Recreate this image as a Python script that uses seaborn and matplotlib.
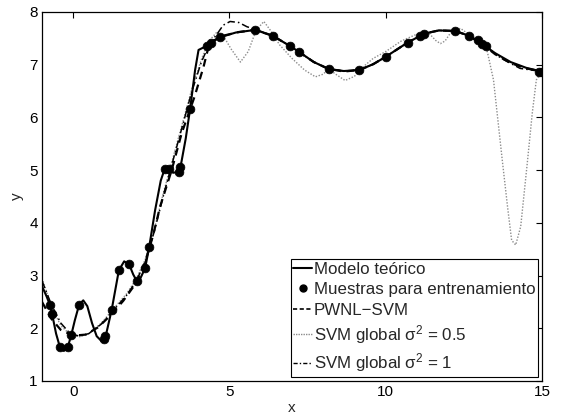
import matplotlib
matplotlib.use('Agg')
import matplotlib.pyplot as plt
import seaborn as sns
from matplotlib.lines import Line2D

# curves
model_x = [-1.0, -0.85, -0.75, -0.68, -0.55, -0.43, -0.30, -0.18, -0.06, 0.05,
           0.19, 0.32, 0.45, 0.60, 0.75, 0.90, 1.03, 1.23, 1.46, 1.63,
           1.79, 1.92, 2.03, 2.15, 2.30, 2.43, 2.62, 2.80, 2.93, 3.05,
           3.20, 3.37, 3.43, 3.60, 3.74, 3.90, 4.01, 4.28, 4.40, 4.70,
           5.20, 5.82, 6.38, 6.95, 7.21, 7.70, 8.17, 8.66, 9.16, 9.60,
           10.0, 10.70, 11.24, 11.70, 12.22, 12.66, 13.07, 13.50, 14.00, 14.50, 15.0]
model_y = [2.80, 2.60, 2.45, 2.28, 1.90, 1.65, 1.57, 1.63, 1.88, 2.15,
           2.45, 2.53, 2.42, 2.10, 1.85, 1.76, 1.83, 2.35, 3.10, 3.27,
           3.21, 3.02, 2.90, 2.95, 3.14, 3.54, 4.24, 4.80, 5.03, 5.02,
           4.95, 4.97, 5.05, 5.60, 6.16, 6.90, 7.28, 7.36, 7.42, 7.52,
           7.61, 7.66, 7.55, 7.35, 7.25, 7.05, 6.92, 6.88, 6.90, 7.01,
           7.15, 7.42, 7.59, 7.65, 7.64, 7.55, 7.40, 7.22, 7.05, 6.94, 6.87]

sample_x = [-0.75, -0.68, -0.43, -0.18, -0.06, 0.19, 0.99, 1.03, 1.23, 1.46,
            1.79, 2.03, 2.30, 2.43, 2.93, 3.05, 3.37, 3.43, 3.74, 4.28,
            4.40, 4.70, 5.82, 6.38, 6.95, 7.21, 8.17, 9.16, 10.0, 10.70,
            11.11, 11.24, 12.22, 12.66, 12.95, 13.07, 13.22, 14.90, 15.0]
sample_y = [2.45, 2.28, 1.65, 1.65, 1.88, 2.45, 1.79, 1.85, 2.35, 3.10,
            3.21, 2.90, 3.14, 3.54, 5.03, 5.03, 4.97, 5.05, 6.16, 7.36,
            7.42, 7.52, 7.66, 7.55, 7.35, 7.25, 6.92, 6.90, 7.15, 7.42,
            7.55, 7.59, 7.64, 7.55, 7.46, 7.40, 7.36, 6.87, 6.87]

pwnl_x = [-1.0, -0.7, -0.4, 0.0, 0.4, 0.8, 1.2, 1.6, 2.0, 2.3,
          2.55, 2.78, 3.0, 3.15, 3.47, 3.88, 4.17, 4.33, 4.5, 4.8,
          5.3, 5.82, 6.38, 6.95, 7.70, 8.17, 8.66, 9.16, 9.60, 10.0,
          10.70, 11.24, 11.70, 12.22, 12.66, 13.07, 13.50, 14.00, 14.50, 15.0]
pwnl_y = [2.50, 2.18, 1.97, 1.86, 1.88, 2.02, 2.25, 2.52, 2.85, 3.25,
          3.75, 4.31, 4.72, 5.00, 5.70, 6.39, 6.96, 7.34, 7.46, 7.55,
          7.62, 7.66, 7.55, 7.35, 7.05, 6.92, 6.87, 6.90, 7.01, 7.15,
          7.42, 7.59, 7.65, 7.64, 7.55, 7.40, 7.20, 7.03, 6.93, 6.87]

svm05_x = [-1.0, -0.7, -0.4, -0.1, 0.2, 0.5, 0.9, 1.3, 1.7, 2.0,
           2.3, 2.6, 2.9, 3.2, 3.5, 3.8, 4.1, 4.33, 4.6, 4.8,
           5.05, 5.35, 5.6, 5.85, 6.1, 6.35, 6.6, 7.0, 7.4, 7.75,
           8.0, 8.17, 8.4, 8.7, 9.0, 9.2, 9.6, 10.0, 10.5, 11.0,
           11.38, 11.6, 11.75, 11.9, 12.07, 12.39, 12.7, 13.0, 13.25, 13.45,
           13.52, 13.73, 13.9, 14.03, 14.16, 14.32, 14.53, 14.69, 14.82, 15.0]
svm05_y = [2.95, 2.42, 2.05, 1.88, 1.84, 1.90, 2.10, 2.38, 2.65, 2.92,
           3.30, 3.90, 4.60, 5.25, 5.90, 6.55, 7.10, 7.44, 7.62, 7.55,
           7.30, 7.05, 7.25, 7.65, 7.82, 7.62, 7.38, 7.12, 6.90, 6.77,
           6.82, 6.92, 6.82, 6.70, 6.78, 6.92, 7.12, 7.25, 7.45, 7.58,
           7.60, 7.46, 7.40, 7.45, 7.60, 7.69, 7.56, 7.43, 7.25, 6.71,
           6.33, 5.19, 4.30, 3.67, 3.58, 3.93, 5.13, 6.08, 6.71, 6.87]

svm1_x = [-1.0, -0.7, -0.4, -0.1, 0.2, 0.5, 0.9, 1.3, 1.7, 2.0,
          2.3, 2.6, 2.9, 3.2, 3.5, 3.8, 4.1, 4.35, 4.6, 4.8,
          5.02, 5.3, 5.56, 5.88, 6.38, 6.95, 7.70, 8.17, 8.66, 9.16,
          9.60, 10.0, 10.70, 11.24, 11.70, 12.22, 12.66, 13.07, 13.70, 14.30, 15.0]
svm1_y = [2.90, 2.45, 2.10, 1.90, 1.85, 1.90, 2.08, 2.35, 2.62, 2.88,
          3.25, 3.85, 4.55, 5.20, 5.85, 6.50, 7.05, 7.38, 7.58, 7.75,
          7.82, 7.80, 7.72, 7.66, 7.55, 7.35, 7.05, 6.92, 6.88, 6.90,
          7.01, 7.15, 7.42, 7.59, 7.65, 7.64, 7.55, 7.40, 7.12, 6.93, 6.87]

labels = ['Modelo teórico', 'Muestras para entrenamiento', 'PWNL\u2212SVM',
          'SVM global σ$^2$ = 0.5', 'SVM global σ$^2$ = 1']

sns.set_style('white')
plt.rcParams['font.family'] = ['Liberation Sans', 'DejaVu Sans']
plt.rcParams['mathtext.fontset'] = 'custom'
plt.rcParams['mathtext.rm'] = 'Liberation Sans'
plt.rcParams['mathtext.it'] = 'Liberation Sans:italic'

fig = plt.figure(figsize=(5.63, 4.19), dpi=100)
ax = fig.add_axes([0.0746, 0.0907, 0.888, 0.8807])

sns.lineplot(x=svm05_x, y=svm05_y, ax=ax, color='#8c8c8c', lw=1.0,
             linestyle=(0, (1, 1.2)), estimator=None, sort=False)
sns.lineplot(x=svm1_x, y=svm1_y, ax=ax, color='black', lw=1.1,
             linestyle=(0, (5, 2, 1, 2)), estimator=None, sort=False)
sns.lineplot(x=pwnl_x, y=pwnl_y, ax=ax, color='black', lw=1.6,
             linestyle=(0, (3.5, 2.5)), estimator=None, sort=False)
sns.lineplot(x=model_x, y=model_y, ax=ax, color='black', lw=1.5,
             estimator=None, sort=False)
sns.scatterplot(x=sample_x, y=sample_y, ax=ax, color='black', s=40,
                edgecolor='black', linewidth=0.5, zorder=5)

ax.set_xlim(-1, 15)
ax.set_ylim(1, 8)
ax.set_xticks([0, 5, 10, 15])
ax.set_yticks(range(1, 9))
ax.tick_params(direction='in', length=4, width=0.8, top=True, right=True,
               labelsize=11, colors='black', pad=3)
for s in ax.spines.values():
    s.set_color('black')
    s.set_linewidth(0.9)
ax.set_xlabel('x', fontsize=11, labelpad=1)
ax.set_ylabel('y', fontsize=11, labelpad=4)

handles = [
    Line2D([], [], color='black', lw=1.5),
    Line2D([], [], color='black', lw=0, marker='o', markersize=5),
    Line2D([], [], color='black', lw=1.2, linestyle=(0, (2.5, 1.5))),
    Line2D([], [], color='#8c8c8c', lw=1.0, linestyle=(0, (1, 0.8))),
    Line2D([], [], color='black', lw=1.0, linestyle=(0, (3, 1.5, 1, 1.5))),
]
leg = ax.legend(handles, labels, loc='lower right', fontsize=12.2,
                handlelength=1.1, handletextpad=0.1, labelspacing=0.32,
                borderpad=0.15, borderaxespad=0.25, fancybox=False,
                framealpha=1, edgecolor='black')
leg.get_frame().set_linewidth(0.8)

fig.savefig('out.png', dpi=100)
